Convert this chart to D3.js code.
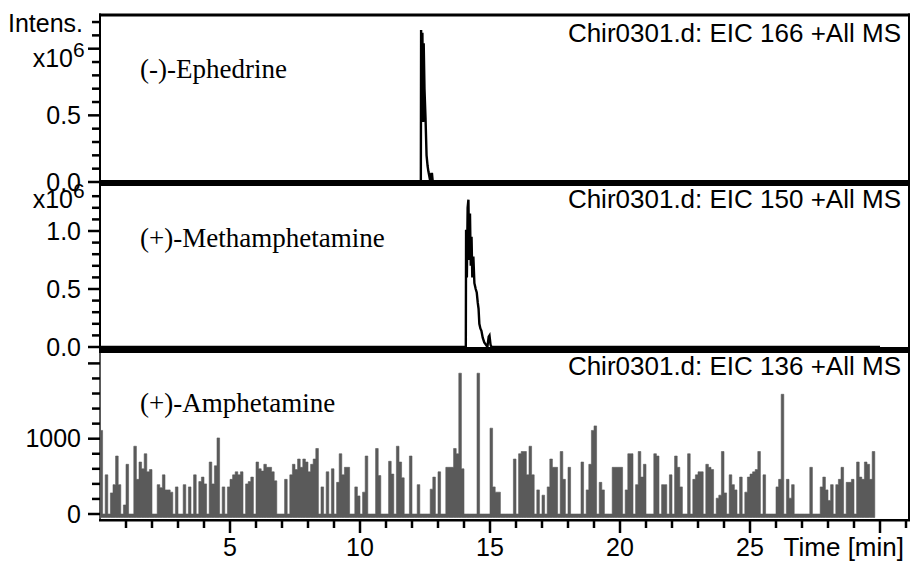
<!DOCTYPE html>
<html lang="en">
<head>
<meta charset="UTF-8">
<title>Chir0301.d - EIC traces</title>
<script src="https://d3js.org/d3.v7.min.js"></script>
<style>
  body { margin: 0; background: #fff; }
  svg { display: block; }
  .lbl { font-family: Arial, "Liberation Sans", sans-serif; font-size: 25px; fill: #000; }
  .title { font-family: Arial, "Liberation Sans", sans-serif; font-size: 26px; fill: #000; }
  .cmpd { font-family: "Times New Roman", "Liberation Serif", serif; font-size: 27px; fill: #000; }
</style>
</head>
<body>
<svg width="910" height="561"></svg>
<script>
// EIC 166 - (-)-Ephedrine, intensity in 1e6
const ephTime = [0, 12.30, 12.34, 12.35, 12.38, 12.40, 12.43, 12.45, 12.48, 12.52, 12.56, 12.60, 12.63, 12.67, 12.70, 12.74, 12.77, 12.80, 30];
const ephInt  = [0, 0,     0,     1.14,  0.55,  1.12,  0.45,  1.04,  0.70,  0.48,  0.20,  0.12,  0.08,  0.04,  0.01,  0.06,  0.06,  0,     0];

// EIC 150 - (+)-Methamphetamine, intensity in 1e6
const methTime = [0, 14.00, 14.07, 14.08, 14.11, 14.14, 14.17, 14.20, 14.23, 14.26, 14.29, 14.32, 14.36, 14.40, 14.45, 14.49, 14.53, 14.56, 14.59, 14.63, 14.67, 14.72, 14.78, 14.84, 14.90, 14.95, 14.98, 15.02, 15.06, 30];
const methInt  = [0, 0,     0,     1.01,  0.60,  1.20,  1.27,  0.75,  1.15,  0.70,  0.95,  0.60,  0.78,  0.55,  0.50,  0.47,  0.38,  0.33,  0.20,  0.16,  0.14,  0.08,  0.04,  0.02,  0,     0.09,  0.10,  0.02,  0,     0];

// EIC 136 - (+)-Amphetamine, counts, one value every 0.1 min from 0 min
const amphStep = 0.1;
const amphInt = [
  1110, 0, 520, 0, 280, 390, 770, 390, 0, 120,
  660, 0, 0, 900, 460, 690, 600, 800, 560, 590,
  0, 0, 390, 350, 520, 320, 320, 290, 0, 360,
  0, 0, 390, 0, 360, 0, 520, 0, 430, 490,
  400, 0, 690, 400, 640, 1010, 0, 360, 0, 360,
  460, 520, 560, 520, 560, 0, 400, 430, 490, 0,
  690, 600, 570, 660, 620, 620, 560, 440, 0, 0,
  0, 460, 0, 520, 660, 590, 730, 620, 730, 690,
  560, 660, 730, 870, 0, 360, 0, 560, 0, 600,
  0, 420, 800, 520, 620, 620, 0, 0, 360, 240,
  0, 290, 770, 0, 0, 0, 870, 510, 0, 0,
  0, 700, 530, 0, 900, 690, 480, 0, 0, 770,
  0, 0, 390, 0, 0, 0, 0, 330, 490, 0,
  560, 0, 0, 620, 620, 620, 870, 800, 1870, 600,
  0, 0, 0, 0, 0, 1870, 0, 0, 0, 0,
  1140, 360, 290, 290, 0, 0, 0, 0, 0, 730,
  0, 800, 830, 830, 520, 900, 520, 0, 320, 0,
  250, 0, 360, 730, 620, 620, 0, 830, 460, 0,
  620, 0, 0, 0, 0, 690, 0, 320, 660, 1110,
  1170, 0, 420, 320, 0, 0, 0, 620, 620, 620,
  620, 0, 320, 800, 800, 0, 390, 830, 490, 660,
  0, 0, 0, 800, 770, 0, 390, 390, 0, 520,
  0, 770, 620, 360, 0, 0, 800, 0, 460, 520,
  560, 560, 0, 660, 620, 590, 0, 210, 250, 830,
  280, 0, 520, 390, 320, 0, 490, 0, 290, 490,
  530, 560, 590, 830, 0, 520, 0, 0, 0, 0,
  360, 460, 1590, 0, 460, 210, 390, 0, 0, 0,
  0, 0, 0, 620, 0, 0, 0, 360, 490, 320,
  180, 390, 0, 390, 460, 620, 0, 420, 420, 460,
  0, 690, 490, 460, 690, 660, 460, 830, 0
];

const titles = ["Chir0301.d: EIC 166 +All MS", "Chir0301.d: EIC 150 +All MS", "Chir0301.d: EIC 136 +All MS"];
const compounds = ["(-)-Ephedrine", "(+)-Methamphetamine", "(+)-Amphetamine"];
const xLabelTicks = [5, 10, 15, 20, 25];

const svg = d3.select("svg");
const left = 100, right = 909;

const x = d3.scaleLinear().domain([0, 31.1]).range([left, left + 31.1 * 26]);

// panel layout: zero pixel, pixels per unit, ticks
const panels = [
  { y0: 182, ppu: 133.3, tickStep: 0.1, tickMax: 1.2, major: [0, 0.5, 1.0], labels: { 0: "0.0", 0.5: "0.5" },
    exp: 1.0, expDy: 18, titleY: 42, cmpdY: 78, bar: 180 },
  { y0: 347, ppu: 116, tickStep: 0.1, tickMax: 1.3, major: [0, 0.5, 1.0], labels: { 0: "0.0", 0.5: "0.5", 1: "1.0" },
    exp: 1.3, expDy: 12, titleY: 208, cmpdY: 247, bar: 347 },
  { y0: 514, ppu: 0.0753, tickStep: 200, tickMax: 2000, major: [0, 1000, 2000], labels: { 0: "0", 1000: "1000" },
    exp: null, titleY: 375, cmpdY: 412, bar: null }
];
panels.forEach(p => {
  p.y = d3.scaleLinear().domain([0, p.tickMax]).range([p.y0, p.y0 - p.ppu * p.tickMax]);
});

// amphetamine trace (step area, gray)
const amphData = amphInt.map((v, i) => [i * amphStep, v]);
const y3 = panels[2].y;
svg.append("path")
  .datum(amphData)
  .attr("fill", "#5a5a5a")
  .attr("stroke", "#5a5a5a")
  .attr("stroke-width", 0.6)
  .attr("d", d3.area().curve(d3.curveStepAfter).x(d => x(d[0])).y0(517.5).y1(d => y3(d[1])));

// ephedrine / methamphetamine traces
[[ephTime, ephInt, panels[0].y], [methTime, methInt, panels[1].y]].forEach(([t, v, ys]) => {
  svg.append("path")
    .datum(t.map((tt, i) => [tt, v[i]]))
    .attr("fill", "none")
    .attr("stroke", "#000")
    .attr("stroke-width", 2.4)
    .attr("d", d3.line().x(d => x(d[0])).y(d => ys(d[1])));
});

// frame
svg.append("rect").attr("x", left - 1).attr("y", 13.5).attr("width", right - left + 2).attr("height", 3).attr("fill", "#000");
svg.append("rect").attr("x", left - 1).attr("y", 13.5).attr("width", 2).attr("height", 353 - 13.5).attr("fill", "#000");
svg.append("rect").attr("x", left - 1).attr("y", 353).attr("width", 2).attr("height", 166).attr("fill", "#5a5a5a");
svg.append("rect").attr("x", right - 1).attr("y", 13.5).attr("width", 2).attr("height", 507).attr("fill", "#000");
panels.forEach(p => {
  if (p.bar !== null) svg.append("rect").attr("x", left - 1).attr("y", p.bar).attr("width", right - left + 2).attr("height", 6).attr("fill", "#000");
});
svg.append("rect").attr("x", left - 1).attr("y", 519).attr("width", 910 - left + 1).attr("height", 2.5).attr("fill", "#000");

// y ticks and labels
panels.forEach((p, pi) => {
  const ticks = d3.range(0, p.tickMax + p.tickStep / 2, p.tickStep).map(v => +v.toFixed(4));
  ticks.forEach(v => {
    const isMajor = p.major.some(m => Math.abs(m - v) < 1e-6);
    const yy = p.y(v);
    svg.append("line")
      .attr("x1", isMajor ? 88 : 92).attr("x2", left)
      .attr("y1", yy).attr("y2", yy)
      .attr("stroke", "#000").attr("stroke-width", 2.5);
    if (p.labels[v] !== undefined) {
      svg.append("text").attr("class", "lbl")
        .attr("x", 81).attr("y", yy).attr("dy", "0.35em")
        .attr("text-anchor", "end").text(p.labels[v]);
    }
  });
  if (p.exp !== null) {
    const ey = p.y(p.exp) + p.expDy;
    svg.append("text").attr("class", "lbl").attr("x", 73).attr("y", ey).attr("text-anchor", "end").text("x10");
    svg.append("text").attr("class", "lbl").attr("x", 73).attr("y", ey - 10).style("font-size", "21px").text("6");
  }
  svg.append("text").attr("class", "title").attr("x", 901).attr("y", p.titleY).attr("text-anchor", "end").text(titles[pi]);
  svg.append("text").attr("class", "cmpd").attr("x", 140).attr("y", p.cmpdY).text(compounds[pi]);
});

svg.append("text").attr("class", "lbl").attr("x", 83).attr("y", 32).attr("text-anchor", "end").text("Intens.");

// x ticks
d3.range(1, 32).forEach(t => {
  const isMajor = t % 5 === 0;
  svg.append("line")
    .attr("x1", x(t)).attr("x2", x(t))
    .attr("y1", 520).attr("y2", isMajor ? 533 : 528)
    .attr("stroke", "#000").attr("stroke-width", 2.5);
});
xLabelTicks.forEach(t => {
  svg.append("text").attr("class", "lbl").attr("x", x(t)).attr("y", 556).attr("text-anchor", "middle").text(t);
});
svg.append("text").attr("class", "title").attr("x", 904).attr("y", 556).attr("text-anchor", "end").text("Time [min]");
</script>
</body>
</html>
